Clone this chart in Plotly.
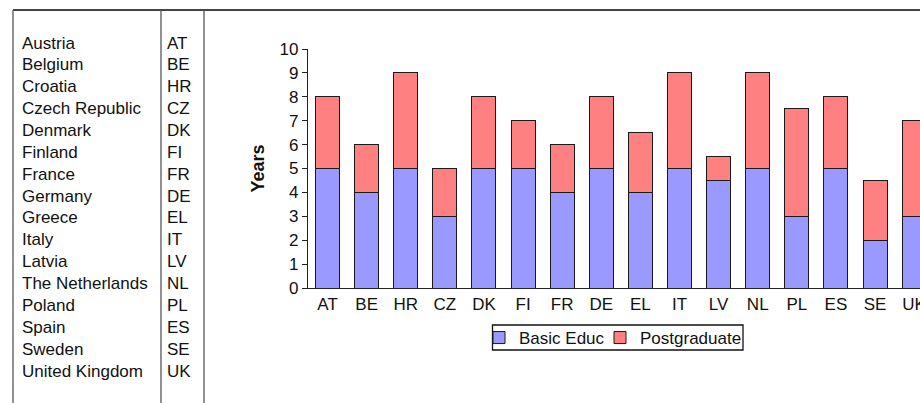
import plotly.graph_objects as go

countries = ["Austria", "Belgium", "Croatia", "Czech Republic", "Denmark", "Finland",
             "France", "Germany", "Greece", "Italy", "Latvia", "The Netherlands",
             "Poland", "Spain", "Sweden", "United Kingdom"]
codes = ["AT", "BE", "HR", "CZ", "DK", "FI", "FR", "DE", "EL", "IT", "LV", "NL",
         "PL", "ES", "SE", "UK"]
basic = [5, 4, 5, 3, 5, 5, 4, 5, 4, 5, 4.5, 5, 3, 5, 2, 3]
postgrad = [3, 2, 4, 2, 3, 2, 2, 3, 2.5, 4, 1, 4, 4.5, 3, 2.5, 4]

W, H = 920, 403
ML, MT, MB = 308, 49, 403 - 288
PW = W - ML
PH = H - MT - MB

def px(x):  # page pixel x -> paper
    return (x - ML) / PW

def py(y):  # page pixel y -> paper
    return (H - MB - y) / PH

FONT = "Liberation Sans, Arial, sans-serif"
FS = 17

fig = go.Figure()
fig.add_trace(go.Bar(x=codes, y=basic, name="Basic Educ", legend="legend",
                     marker=dict(color="#9999FF", line=dict(color="#1a1a1a", width=1))))
fig.add_trace(go.Bar(x=codes, y=postgrad, name="Postgraduate", legend="legend2",
                     marker=dict(color="#FF8080", line=dict(color="#1a1a1a", width=1))))

shapes = [
    dict(type="line", xref="paper", yref="paper", x0=px(13), x1=px(930), y0=py(10), y1=py(10),
         line=dict(color="#444444", width=2)),
    # legend frame
    dict(type="rect", xref="paper", yref="paper", x0=px(492.5), x1=px(743), y0=py(325), y1=py(350),
         line=dict(color="#111111", width=1.3), fillcolor="rgba(0,0,0,0)", layer="above"),
]
for xv in [13, 161, 204]:
    shapes.append(dict(type="line", xref="paper", yref="paper", x0=px(xv), x1=px(xv),
                       y0=py(10), y1=py(410), line=dict(color="#555555", width=1.3)))

annotations = []
row0, step = 43, 21.87
for i, (name, code) in enumerate(zip(countries, codes)):
    yy = py(row0 + i * step)
    annotations.append(dict(text=name, xref="paper", yref="paper", x=px(19.5), y=yy,
                            xanchor="left", yanchor="middle", showarrow=False,
                            font=dict(family=FONT, size=FS, color="#111111")))
    annotations.append(dict(text=code, xref="paper", yref="paper", x=px(165), y=yy,
                            xanchor="left", yanchor="middle", showarrow=False,
                            font=dict(family=FONT, size=FS, color="#111111")))

leg_common = dict(orientation="h", xanchor="left", yanchor="top", borderwidth=0,
                  bgcolor="rgba(0,0,0,0)", font=dict(family=FONT, size=FS, color="#111111"),
                  itemwidth=30)

fig.update_layout(
    width=W, height=H,
    margin=dict(l=ML, r=0, t=MT, b=MB, pad=0, autoexpand=False),
    barmode="stack", bargap=0.386,
    plot_bgcolor="white", paper_bgcolor="white",
    font=dict(family=FONT, size=FS, color="#111111"),
    showlegend=True,
    legend=dict(x=px(479), y=py(320), **leg_common),
    legend2=dict(x=px(600), y=py(320), **leg_common),
    xaxis=dict(range=[-0.5, 15.15], showline=True, linecolor="#222222", linewidth=1.3,
               ticks="", showgrid=False, zeroline=False, tickfont=dict(size=FS),
               fixedrange=True, automargin=False),
    yaxis=dict(range=[0, 10], dtick=1, showline=True, linecolor="#222222", linewidth=1.3,
               ticks="outside", ticklen=5, tickcolor="#222222", showgrid=False,
               zeroline=False, tickfont=dict(size=FS), automargin=False,
               title=dict(text="<b>Years</b>", font=dict(size=18), standoff=10)),
    shapes=shapes, annotations=annotations,
)

fig.write_html("out.html", config={"displayModeBar": False},
               post_script="document.body.style.margin='0';document.body.style.overflow='hidden';")
